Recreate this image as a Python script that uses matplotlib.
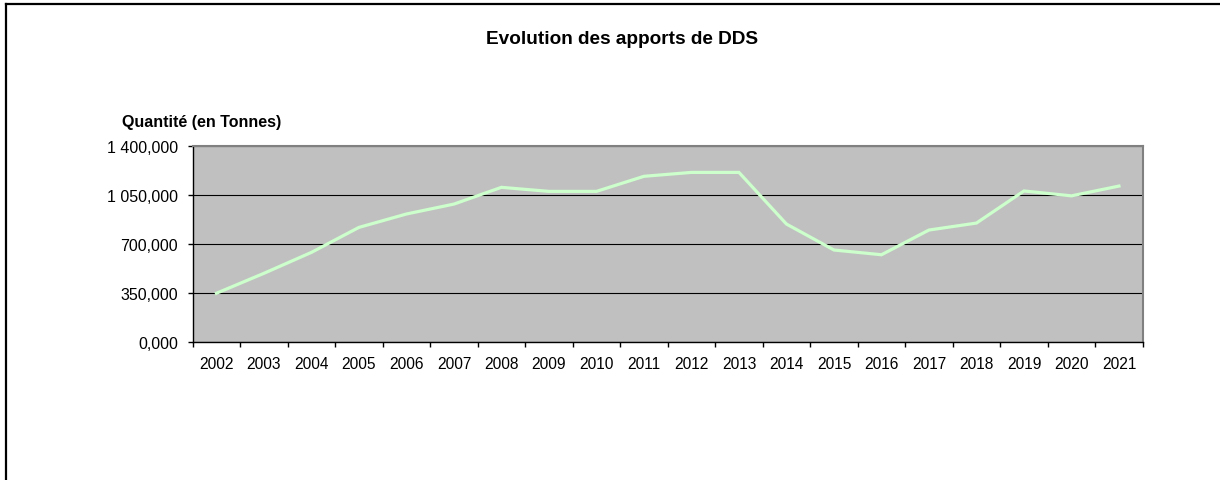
import matplotlib
matplotlib.use("Agg")
import matplotlib.pyplot as plt
from matplotlib.lines import Line2D
from matplotlib.ticker import FixedLocator, FuncFormatter

plt.rcParams['font.family'] = ['Liberation Sans', 'DejaVu Sans']

# data (tonnes)
years = [str(y) for y in range(2002, 2022)]
quantites = [347, 490, 640, 819, 915, 986, 1106, 1077, 1077, 1185,
             1213, 1213, 843, 657, 623, 800, 850, 1080, 1045, 1115]
yticks = [0, 350, 700, 1050, 1400]

W, H = 1220, 481
fig = plt.figure(figsize=(W / 100, H / 100), dpi=100)
fig.patch.set_facecolor('white')

# plot area in pixels
left, right, top, bottom = 192.7, 1142.7, 147.3, 342.7
ax = fig.add_axes([left / W, 1 - bottom / H, (right - left) / W, (bottom - top) / H])
ax.set_facecolor('#c0c0c0')

x = list(range(len(years)))
ax.plot(x, quantites, color='#ccffcc', lw=2.3, solid_joinstyle='miter', zorder=3)

ax.set_xlim(-0.5, len(years) - 0.5)
ax.set_ylim(0, 1400)

ax.set_yticks(yticks)
ax.yaxis.set_major_formatter(FuncFormatter(
    lambda v, p: f"{v:,.3f}".replace(",", " ").replace(".", ",")))
ax.grid(axis='y', color='black', lw=0.8, zorder=1)
ax.set_axisbelow(True)

ax.set_xticks(x)
ax.set_xticklabels(years)
ax.xaxis.set_minor_locator(FixedLocator([i - 0.5 for i in range(len(years) + 1)]))
ax.tick_params(axis='x', which='major', length=0, pad=10, labelsize=11.2)
ax.tick_params(axis='x', which='minor', length=3.5, width=1, direction='out')
ax.tick_params(axis='y', length=3.5, width=1, direction='out', pad=7, labelsize=11.5)

for s in ['left', 'bottom']:
    ax.spines[s].set_color('black')
    ax.spines[s].set_linewidth(1)
for s in ['top', 'right']:
    ax.spines[s].set_color('#808080')
    ax.spines[s].set_linewidth(1.5)

fig.text(621.7 / W, 1 - 40 / H, "Evolution des apports de DDS",
         ha='center', va='center', fontsize=13.7, fontweight='bold')
fig.text(122 / W, 1 - 123 / H, "Quantité (en Tonnes)",
         ha='left', va='center', fontsize=11.5, fontweight='bold')

# chart frame (left and top edges visible)
fig.add_artist(Line2D([5.5 / W, 5.5 / W], [0, 1 - 4.5 / H], color='black', lw=1.6))
fig.add_artist(Line2D([5.5 / W, 1], [1 - 4.5 / H, 1 - 4.5 / H], color='black', lw=1.6))

fig.savefig('out.png', dpi=100)
